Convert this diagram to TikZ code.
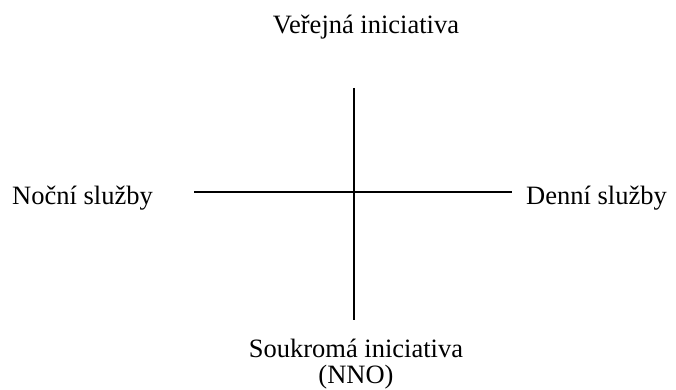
\documentclass[tikz,border=0pt]{standalone}
\usepackage{fontspec}
\setmainfont{Liberation Serif}
\begin{document}
\begin{tikzpicture}[x=1pt,y=-1pt,
  lbl/.style={anchor=base,inner sep=0pt,font=\fontsize{26.5}{27}\selectfont},
  axis/.style={line width=1.2pt,black}]
\useasboundingbox (0,0) rectangle (676,390);
\node[lbl] (top) at (366,34) {Veřejná iniciativa};
\node[lbl,anchor=base west] (left) at (12,204) {Noční služby};
\node[lbl,anchor=base east] (right) at (667,204) {Denní služby};
\node[lbl] (bot) at (356,357) {Soukromá iniciativa};
\node[lbl] (bot2) at (356,383) {(NNO)};
\coordinate (vt) at (354,88);
\coordinate (vb) at (354,320);
\coordinate (hl) at (194,192);
\coordinate (hr) at (512,192);
\draw[axis] (vt) -- (vb);
\draw[axis] (hl) -- (hr);
\end{tikzpicture}
\end{document}
